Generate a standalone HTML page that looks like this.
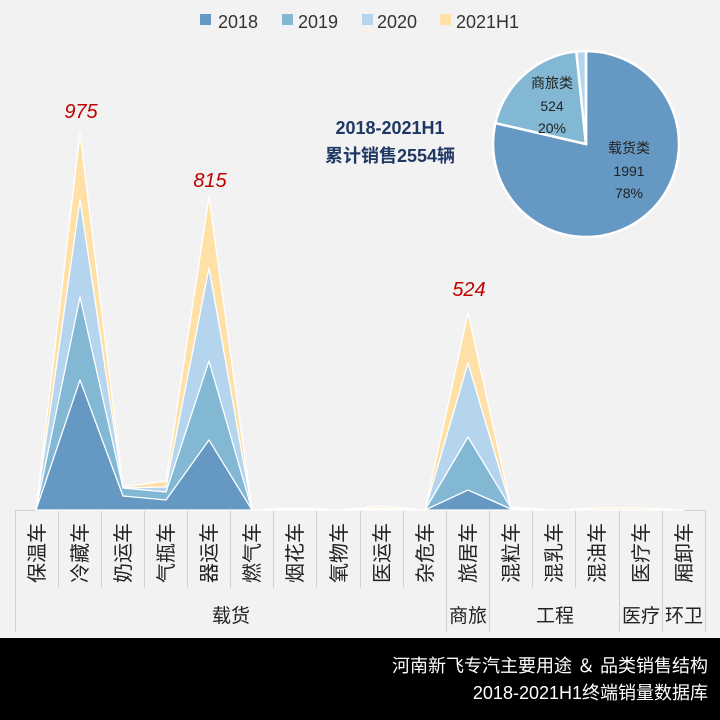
<!DOCTYPE html>
<html><head><meta charset="utf-8"><style>
body{margin:0;width:720px;height:720px;background:#f2f2f2;font-family:"Liberation Sans","Noto Sans CJK SC",sans-serif;overflow:hidden;position:relative}
</style></head><body>
<svg width="720" height="720" style="position:absolute;left:0;top:0" font-family="Liberation Sans, Noto Sans CJK SC, sans-serif">
<g font-size="18" fill="#333">
<rect x="200" y="14" width="11" height="11" fill="#6598c2"/><text x="218" y="28">2018</text>
<rect x="282" y="14" width="11" height="11" fill="#82b8d4"/><text x="298" y="28">2019</text>
<rect x="362" y="14" width="11" height="11" fill="#b5d5ee"/><text x="377" y="28">2020</text>
<rect x="440" y="14" width="11" height="11" fill="#ffe0a6"/><text x="456" y="28">2021H1</text>
</g>
<g stroke="#d0d0d0" stroke-width="1" fill="none">
<line x1="15" y1="510.5" x2="705" y2="510.5"/>
<line x1="15.5" y1="510" x2="15.5" y2="632"/>
<line x1="446.5" y1="510" x2="446.5" y2="632"/>
<line x1="489.5" y1="510" x2="489.5" y2="632"/>
<line x1="619.5" y1="510" x2="619.5" y2="632"/>
<line x1="662.5" y1="510" x2="662.5" y2="632"/>
<line x1="705.5" y1="510" x2="705.5" y2="632"/>
<path d="M58.5 510V588M101.5 510V588M144.5 510V588M187.5 510V588M230.5 510V588M273.5 510V588M316.5 510V588M360.5 510V588M403.5 510V588M532.5 510V588M575.5 510V588"/>
</g>
<g stroke="#fff" stroke-width="1.3" stroke-linejoin="round">
<polygon fill="#ffe0a6" points="36,510 80,133 123,487 166,481 209,197 252,510 296,508 339,510 382,506 425,510 468,313 511,507 554,510 597,508 641,508 684,510 36,510"/>
<polygon fill="#b5d5ee" points="36,510 80,200 123,488 166,487 209,268 252,510 296,508 339,510 382,508 425,510 468,363 511,508 554,510 597,510 641,510 684,510 36,510"/>
<polygon fill="#82b8d4" points="36,510 80,297 123,488 166,492 209,361 252,510 296,509 339,510 382,509 425,510 468,437 511,508 554,510 597,510 641,510 684,510 36,510"/>
<polygon fill="#6598c2" points="36,510 80,380 123,496 166,500 209,440 252,510 296,509 339,510 382,509 425,510 468,490 511,509 554,510 597,510 641,510 684,510 36,510"/>
</g>
<g font-size="20" font-style="italic" fill="#c00000" text-anchor="middle">
<text x="81" y="118">975</text><text x="210" y="187">815</text><text x="469" y="296">524</text>
</g>
<g font-size="18" font-weight="bold" fill="#1f3864" text-anchor="middle">
<text x="390" y="134">2018-2021H1</text><text x="390" y="162">累计销售2554辆</text>
</g>
<g stroke="#fff" stroke-width="2.5">
<path d="M586 144L586 51A93 93 0 1 1 495.4 123.1Z" fill="#6598c2"/>
<path d="M586 144L495.4 123.1A93 93 0 0 1 576.3 51.5Z" fill="#82b8d4"/>
<path d="M586 144L576.3 51.5A93 93 0 0 1 586 51Z" fill="#b5d5ee"/>
</g>
<g font-size="14" fill="#222" text-anchor="middle">
<text x="552" y="88">商旅类</text><text x="552" y="111">524</text><text x="552" y="133">20%</text>
<text x="629" y="153">载货类</text><text x="629" y="176">1991</text><text x="629" y="198">78%</text>
</g>
<g font-size="20" fill="#222" text-anchor="middle">
<text transform="translate(44,553) rotate(-90)">保温车</text>
<text transform="translate(87,553) rotate(-90)">冷藏车</text>
<text transform="translate(130,553) rotate(-90)">奶运车</text>
<text transform="translate(173,553) rotate(-90)">气瓶车</text>
<text transform="translate(216,553) rotate(-90)">器运车</text>
<text transform="translate(259,553) rotate(-90)">燃气车</text>
<text transform="translate(302,553) rotate(-90)">烟花车</text>
<text transform="translate(346,553) rotate(-90)">氧物车</text>
<text transform="translate(389,553) rotate(-90)">医运车</text>
<text transform="translate(432,553) rotate(-90)">杂危车</text>
<text transform="translate(475,553) rotate(-90)">旅居车</text>
<text transform="translate(518,553) rotate(-90)">混粒车</text>
<text transform="translate(561,553) rotate(-90)">混乳车</text>
<text transform="translate(604,553) rotate(-90)">混油车</text>
<text transform="translate(648,553) rotate(-90)">医疗车</text>
<text transform="translate(691,553) rotate(-90)">厢卸车</text>
</g>
<g font-size="19" fill="#222" text-anchor="middle">
<text x="231" y="622">载货</text>
<text x="468" y="622">商旅</text>
<text x="555" y="622">工程</text>
<text x="641" y="622">医疗</text>
<text x="684" y="622">环卫</text>
</g>
<rect x="0" y="638" width="720" height="82" fill="#000"/>
<g font-size="18" fill="#fff" text-anchor="end">
<text x="708" y="672">河南新飞专汽主要用途 ＆ 品类销售结构</text>
<text x="708" y="699">2018-2021H1终端销量数据库</text>
</g>
</svg>
</body></html>
